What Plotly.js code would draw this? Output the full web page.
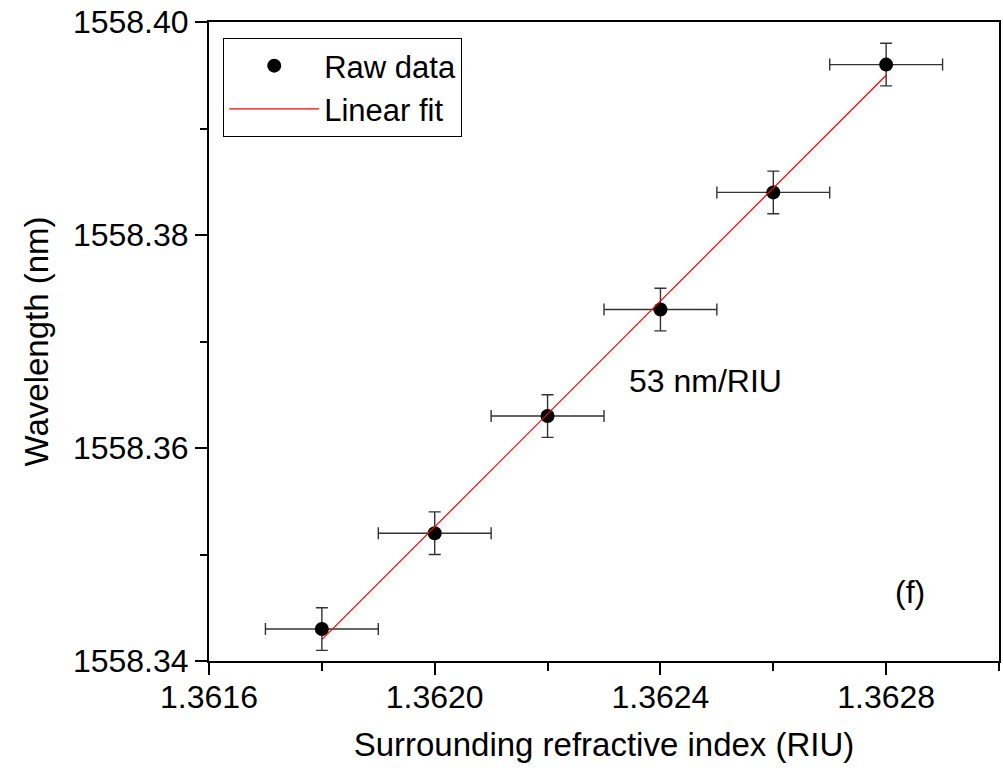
<!DOCTYPE html>
<html>
<head>
<meta charset="utf-8">
<script src="https://cdn.plot.ly/plotly-3.0.1.min.js"></script>
<style>
  html, body { margin: 0; padding: 0; background: #fff; }
  #chart { width: 1003px; height: 770px; }
</style>
</head>
<body>
<div id="chart"></div>
<script>
// Data
const refractiveIndex = [1.3618, 1.3620, 1.3622, 1.3624, 1.3626, 1.3628];
const wavelength = [1558.343, 1558.352, 1558.363, 1558.373, 1558.384, 1558.396];
const xError = [0.0001, 0.0001, 0.0001, 0.0001, 0.0001, 0.0001];
const yError = [0.002, 0.002, 0.002, 0.002, 0.002, 0.002];
const xTickValues = [1.3616, 1.3620, 1.3624, 1.3628];
const xTickLabels = ["1.3616", "1.3620", "1.3624", "1.3628"];
const yTickValues = [1558.34, 1558.36, 1558.38, 1558.40];
const yTickLabels = ["1558.34", "1558.36", "1558.38", "1558.40"];
const sensitivityLabel = "53 nm/RIU";
const panelLabel = "(f)";

// Least-squares linear fit of the raw data
const n = refractiveIndex.length;
const mx = refractiveIndex.reduce((a, b) => a + b, 0) / n;
const my = wavelength.reduce((a, b) => a + b, 0) / n;
let sxy = 0, sxx = 0;
for (let i = 0; i < n; i++) {
  sxy += (refractiveIndex[i] - mx) * (wavelength[i] - my);
  sxx += (refractiveIndex[i] - mx) ** 2;
}
const slope = sxy / sxx;
const intercept = my - slope * mx;
const fitX = [refractiveIndex[0], refractiveIndex[n - 1]];
const fitY = fitX.map(x => intercept + slope * x);

const FONT = "Liberation Sans, Arial, Helvetica, sans-serif";

const traces = [
  {
    x: refractiveIndex,
    y: wavelength,
    type: "scatter",
    mode: "markers",
    name: "Raw data",
    marker: { color: "#000", size: 14 },
    error_x: { type: "data", array: xError, visible: true, color: "#333", thickness: 1.4, width: 6 },
    error_y: { type: "data", array: yError, visible: true, color: "#333", thickness: 1.4, width: 6 }
  },
  {
    x: fitX,
    y: fitY,
    type: "scatter",
    mode: "lines",
    name: "Linear fit",
    line: { color: "#ff0000", width: 1.2 }
  }
];

const layout = {
  width: 1003,
  height: 770,
  margin: { l: 209, r: 4, t: 22, b: 109 },
  paper_bgcolor: "#fff",
  plot_bgcolor: "#fff",
  font: { family: FONT, size: 32, color: "#000" },
  showlegend: true,
  legend: {
    x: 0.018, y: 0.975, xanchor: "left", yanchor: "top",
    bordercolor: "#000", borderwidth: 1, bgcolor: "#fff",
    font: { family: FONT, size: 31, color: "#000" },
    itemwidth: 90,
    tracegroupgap: 0
  },
  xaxis: {
    range: [1.3616, 1.3630],
    tickvals: xTickValues,
    ticktext: xTickLabels,
    ticks: "outside", ticklen: 12, tickwidth: 2, tickcolor: "#000",
    ticklabelstandoff: -5,
    minor: { dtick: 0.0002, tick0: 1.3616, ticks: "outside", ticklen: 8, tickwidth: 2, tickcolor: "#000", showgrid: false },
    showline: true, linewidth: 2, linecolor: "#000", mirror: true,
    showgrid: false, zeroline: false,
    tickfont: { family: FONT, size: 32 },
    title: { text: "Surrounding refractive index (RIU)", font: { family: FONT, size: 33 }, standoff: 18 }
  },
  yaxis: {
    range: [1558.34, 1558.40],
    tickvals: yTickValues,
    ticktext: yTickLabels,
    ticks: "outside", ticklen: 12, tickwidth: 2, tickcolor: "#000",
    minor: { dtick: 0.01, tick0: 1558.34, ticks: "outside", ticklen: 7, tickwidth: 2, tickcolor: "#000", showgrid: false },
    showline: true, linewidth: 2, linecolor: "#000", mirror: true,
    showgrid: false, zeroline: false,
    tickfont: { family: FONT, size: 32 },
    title: { text: "Wavelength (nm)", font: { family: FONT, size: 33 }, standoff: 14 }
  },
  annotations: [
    {
      x: 1.36248, y: 1558.3663, xref: "x", yref: "y",
      text: sensitivityLabel, showarrow: false,
      font: { family: FONT, size: 32, color: "#000" }
    },
    {
      x: 0.909, y: 0.077, xref: "paper", yref: "paper",
      text: panelLabel, showarrow: false,
      font: { family: FONT, size: 32, color: "#000" }
    }
  ]
};

Plotly.newPlot("chart", traces, layout, { staticPlot: true, displayModeBar: false });
</script>
</body>
</html>
